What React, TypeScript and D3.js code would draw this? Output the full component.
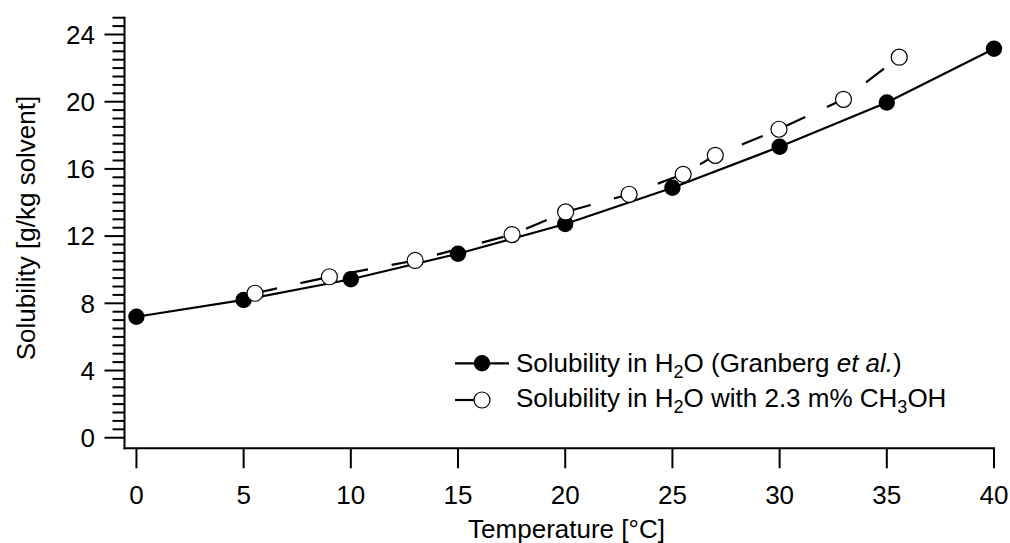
import React from "react";
import * as d3 from "d3";

const tempWater = [0, 5, 10, 15, 20, 25, 30, 35, 40];
const solWater = [7.2, 8.2, 9.43, 10.95, 12.72, 14.88, 17.32, 19.95, 23.15];

const tempMeth = [5.53, 9.0, 13.0, 17.52, 20.02, 22.98, 25.5, 27.0, 29.97, 32.98, 35.58];
const solMeth = [8.6, 9.58, 10.55, 12.09, 13.44, 14.49, 15.68, 16.81, 18.36, 20.14, 22.65];

const xTicks = [0, 5, 10, 15, 20, 25, 30, 35, 40];
const yTicks = [0, 4, 8, 12, 16, 20, 24];

const xLabel = "Temperature [°C]";
const yLabel = "Solubility [g/kg solvent]";

const FONT = "'Liberation Sans', Arial, Helvetica, sans-serif";
const FS = 26;

export default function App() {
  const x = d3.scaleLinear().domain([-0.58, 40]).range([124, 994]);
  const y = d3.scaleLinear().domain([-0.63, 25]).range([448.3, 17.7]);

  const minor = d3.range(0, 25.01, 0.5).filter((v) => Math.abs(v % 4) > 1e-6);

  const waterPts = tempWater.map((t, i) => [t, solWater[i]] as [number, number]);
  const methPts = tempMeth.map((t, i) => [t, solMeth[i]] as [number, number]);
  const line = d3
    .line<[number, number]>()
    .x((d) => x(d[0]))
    .y((d) => y(d[1]));

  const axisX = 124.5;
  const axisY = 448.3;

  return (
    <svg
      width={1010}
      height={543}
      style={{ position: "absolute", left: 0, top: 0, background: "#fff" }}
      fontFamily={FONT}
    >
      <rect x={0} y={0} width={1010} height={543} fill="#fff" />
      {/* Y axis */}
      <line x1={axisX} x2={axisX} y1={y(25) - 1} y2={axisY + 1} stroke="#000" strokeWidth={2} />
      {minor.map((v) => (
        <line key={"m" + v} x1={axisX - 12} x2={axisX} y1={y(v)} y2={y(v)} stroke="#000" strokeWidth={2} />
      ))}
      {yTicks.map((v) => (
        <g key={"y" + v}>
          <line x1={axisX - 20} x2={axisX} y1={y(v)} y2={y(v)} stroke="#000" strokeWidth={2} />
          <text x={95} y={y(v)} dy="0.36em" textAnchor="end" fontSize={FS} fill="#000">
            {v}
          </text>
        </g>
      ))}
      <text
        transform={`translate(35,228) rotate(-90)`}
        textAnchor="middle"
        fontSize={FS}
        fill="#000"
      >
        {yLabel}
      </text>

      {/* X axis */}
      <line x1={axisX - 1} x2={x(40) + 1} y1={axisY} y2={axisY} stroke="#000" strokeWidth={2} />
      {xTicks.map((v) => (
        <g key={"x" + v}>
          <line x1={x(v)} x2={x(v)} y1={axisY} y2={axisY + 20} stroke="#000" strokeWidth={2} />
          <text x={x(v)} y={504} textAnchor="middle" fontSize={FS} fill="#000">
            {v}
          </text>
        </g>
      ))}
      <text x={566.5} y={537.5} textAnchor="middle" fontSize={FS} fill="#000">
        {xLabel}
      </text>

      {/* Lines */}
      <path d={line(waterPts) || ""} fill="none" stroke="#000" strokeWidth={2.2} />
      <path d={line(methPts) || ""} fill="none" stroke="#000" strokeWidth={2.2} strokeDasharray="22.5,24" />

      {/* Markers */}
      {waterPts.map((d, i) => (
        <circle key={"w" + i} cx={x(d[0])} cy={y(d[1])} r={8.2} fill="#000" />
      ))}
      {methPts.map((d, i) => (
        <circle key={"o" + i} cx={x(d[0])} cy={y(d[1])} r={8} fill="#fff" stroke="#000" strokeWidth={1.2} />
      ))}

      {/* Legend */}
      <line x1={455} x2={509} y1={363.3} y2={363.3} stroke="#000" strokeWidth={2.2} />
      <circle cx={482} cy={363.3} r={8.2} fill="#000" />
      <text x={516} y={372} fontSize={FS} fill="#000">
        Solubility in H
        <tspan fontSize={18} dy={6}>2</tspan>
        <tspan dy={-6}>O (Granberg </tspan>
        <tspan fontStyle="italic">et al.</tspan>
        <tspan>)</tspan>
      </text>
      <line x1={455} x2={482} y1={400} y2={400} stroke="#000" strokeWidth={2.2} />
      <circle cx={482} cy={400} r={8} fill="#fff" stroke="#000" strokeWidth={1.2} />
      <text x={516} y={407} fontSize={FS} fill="#000">
        Solubility in H
        <tspan fontSize={18} dy={6}>2</tspan>
        <tspan dy={-6}>O with 2.3 m% CH</tspan>
        <tspan fontSize={18} dy={6}>3</tspan>
        <tspan dy={-6}>OH</tspan>
      </text>
    </svg>
  );
}
